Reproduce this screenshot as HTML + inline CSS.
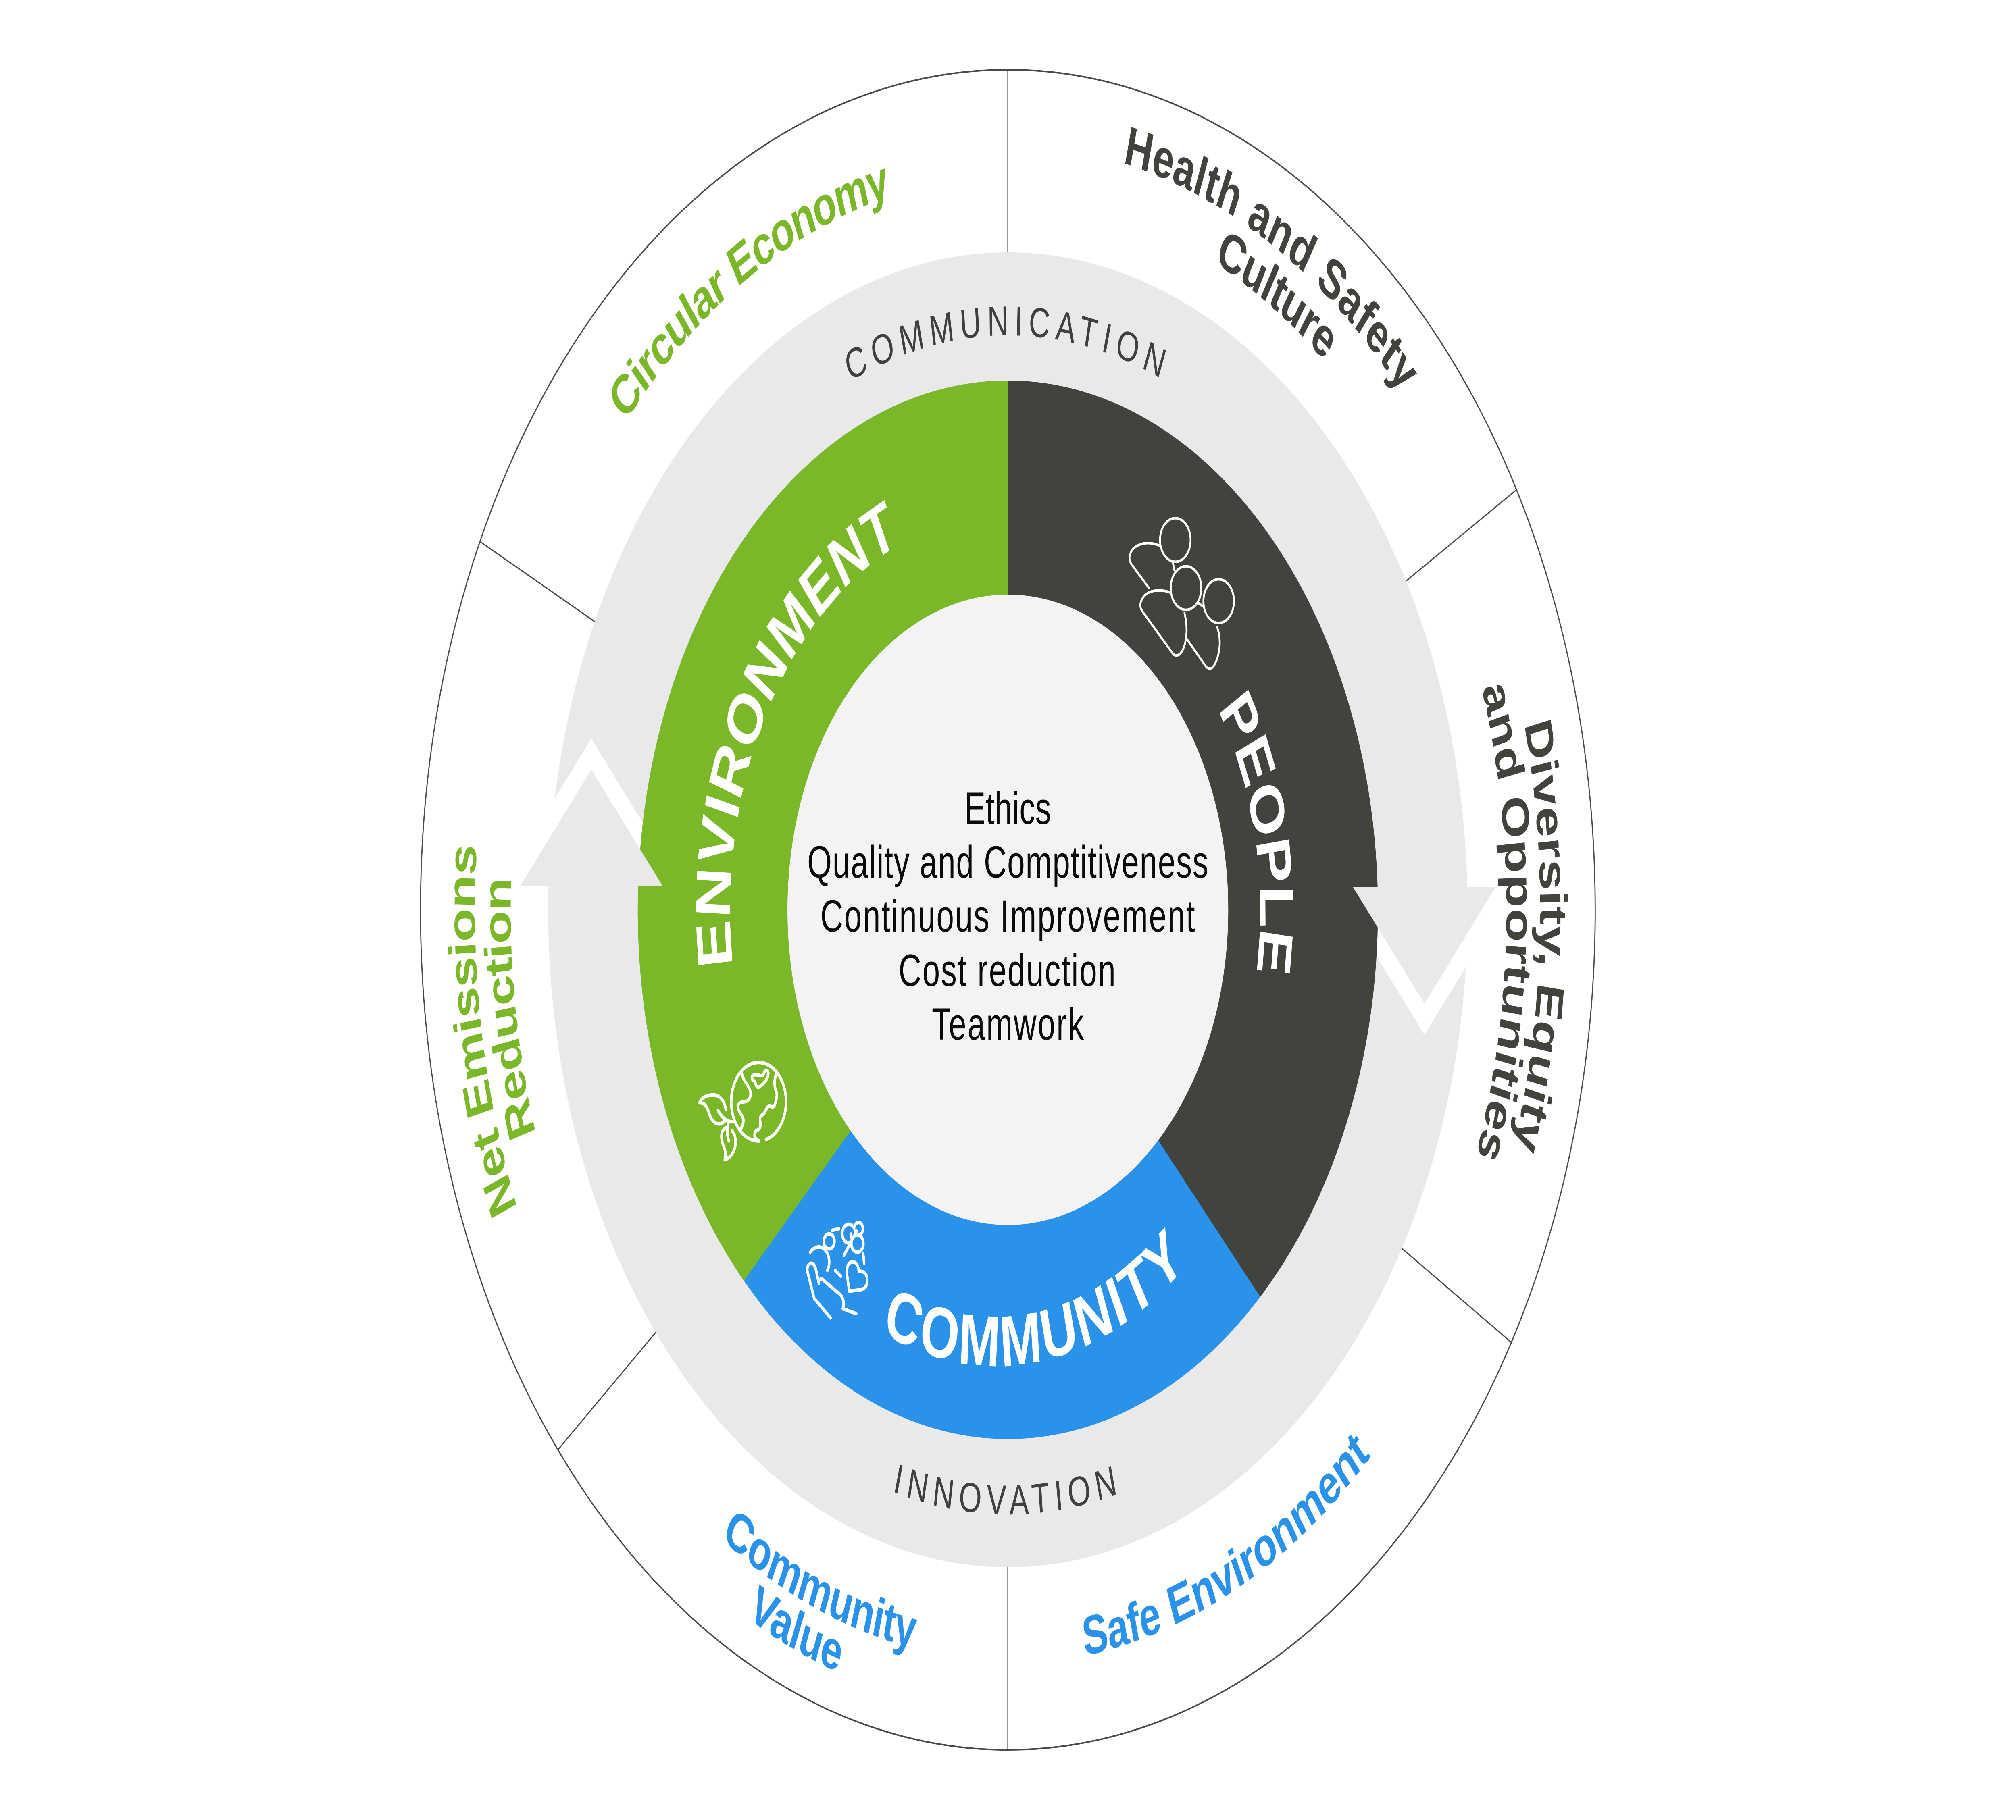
<!DOCTYPE html>
<html><head><meta charset="utf-8">
<style>
html,body{margin:0;padding:0;background:#fff;overflow:hidden;width:100%;height:100%;}
svg{display:block;position:fixed;left:0;top:0;width:100vw;height:100vh;}
text{font-family:"Liberation Sans",Arial,sans-serif;}
</style></head>
<body>
<svg viewBox="0 0 7153 4515" preserveAspectRatio="none">
<defs>
<path id="pComm" d="M2341.9,1544.5 A1425,1425 0 0 1 4810.1,1544.5"/>
<path id="pInno" d="M2277,3007 A1500,1500 0 0 0 4875,3007"/>
<path id="pEnv" d="M2727.3,2756.9 A985,985 0 0 1 3567.4,1272"/>
<path id="pPeo" d="M3854.1,1406.3 A895,895 0 0 1 4173.7,2923.1"/>
<path id="pCmty" d="M2729.3,3003.3 A1036,1036 0 0 0 4501.9,2724.1"/>
<path id="pCirc" d="M1758.2,2282.4 A1818,1818 0 0 1 4463,670.1"/>
<path id="pHealth" d="M2627.5,614.2 A1897,1897 0 0 1 5473,2257"/>
<path id="pCult" d="M2747.3,698.7 A1765,1765 0 0 1 5339.9,2318.6"/>
<path id="pDiv" d="M4577,655.1 A1889,1889 0 0 1 4462.9,3924.8"/>
<path id="pOpp" d="M4487.1,740.7 A1769,1769 0 0 1 4433.7,3804.2"/>
<path id="pNet" d="M2901.5,4023.6 A1891,1891 0 0 1 2383.4,789.6"/>
<path id="pRed" d="M2912.4,3891.3 A1764,1764 0 0 1 2492.4,865"/>
<path id="pSafe" d="M2529,3806.5 A1870,1870 0 0 0 5441.3,2389.1"/>
<path id="pCV" d="M1733.2,2524.2 A1862,1862 0 0 0 4728.8,3719.2"/>
<path id="pVal" d="M1606.9,2507.5 A1985,1985 0 0 0 4777.5,3837.1"/>
</defs>

<rect x="0" y="0" width="7153" height="4515" fill="#ffffff"/>

<!-- outer circle -->
<circle cx="3576" cy="2257" r="2084" fill="#ffffff" stroke="#4a4a48" stroke-width="4"/>

<!-- divider lines -->
<g stroke="#4a4a48" stroke-width="3.5">
<line x1="3576" y1="640" x2="3576" y2="173"/>
<line x1="3576" y1="3870" x2="3576" y2="4341"/>
<line x1="2110" y1="1542" x2="1703" y2="1343.4"/>
<line x1="2327" y1="3305" x2="1979.6" y2="3596.6"/>
<line x1="4988.5" y1="1441.5" x2="5380.8" y2="1215"/>
<line x1="4974" y1="3097" x2="5362.4" y2="3330.3"/>
</g>

<!-- gray ring -->
<circle cx="3576" cy="2257" r="1631" fill="#e9e9e9"/>

<!-- white chevrons -->
<polygon points="2098,1832 1777,2199 2419,2199" fill="#ffffff"/>
<polygon points="5054,2567 4733,2200 5375,2200" fill="#ffffff"/>

<!-- colored ring -->
<circle cx="3576" cy="2257" r="1313" fill="#2b92ea"/>
<path d="M3576,2257 L2639.4,3177.3 A1313,1313 0 0 1 3576,944 Z" fill="#7bb829"/>
<path d="M3576,2257 L3576,944 A1313,1313 0 0 1 4471.5,3217.3 Z" fill="#41433d"/>

<!-- gray arrowheads -->
<polygon points="2098,1909 1845,2199 2352,2199" fill="#e9e9e9"/>
<polygon points="5054,2490 4800,2200 5307,2200" fill="#e9e9e9"/>

<!-- inner circle -->
<circle cx="3576" cy="2257" r="782" fill="#f3f3f3"/>

<!-- globe icon -->
<g transform="translate(2450 2500) scale(0.44643)" fill="none" stroke="#ffffff" stroke-width="20" stroke-linecap="round" stroke-linejoin="round">
<path d="M600,732 A218,218 0 1 0 545,740"/>
<path d="M405,355 C415,410 480,440 478,480 C476,505 455,520 430,522 C395,524 375,530 378,555 C381,580 415,595 420,620 C423,645 410,665 395,675"/>
<path d="M690,365 C665,385 665,420 672,445 C680,470 690,470 685,495 C680,520 670,545 660,550 C645,555 635,540 615,550 C600,560 595,585 570,595 C550,605 550,615 555,640 C560,670 545,675 525,682 C505,690 508,710 512,720 C520,730 535,735 545,740"/>
<path d="M490,395 C480,375 510,368 545,375 C575,385 580,370 590,355 C600,345 620,345 618,370 C615,400 570,430 545,440 C520,448 520,420 510,410 C500,402 493,404 490,395 Z"/>
<path d="M280,565 C270,510 220,480 170,485 C120,485 85,505 72,528 C110,528 130,545 150,590 C170,635 205,648 235,645 C255,643 268,632 280,625"/>
<path d="M218,570 C250,612 300,640 345,632"/>
<path d="M300,645 C290,680 288,710 305,740"/>
<path d="M285,665 C250,675 240,705 250,740 C260,775 290,790 272,845 C330,830 360,790 358,740 C356,710 345,695 330,685"/>
</g>

<!-- community icon -->
<g transform="translate(2450 2500) scale(0.44643)">
<g fill="#2b92ea" stroke="#ffffff" stroke-width="40">
<circle cx="1258" cy="1255" r="42"/>
<circle cx="1335" cy="1228" r="25"/>
<circle cx="1326" cy="1310" r="38"/>
</g>
<g fill="#2b92ea">
<circle cx="1258" cy="1255" r="42"/>
<circle cx="1335" cy="1228" r="25"/>
<circle cx="1326" cy="1310" r="38"/>
</g>
<g fill="none" stroke="#ffffff" stroke-width="20" stroke-linecap="round" stroke-linejoin="round">
<circle cx="1102" cy="1298" r="42"/>
<line x1="1125" y1="1237" x2="1180" y2="1228"/>
<line x1="1220" y1="1375" x2="1320" y2="1242"/>
<line x1="1276" y1="1258" x2="1283" y2="1290"/>
<line x1="1372" y1="1365" x2="1380" y2="1418"/>
<line x1="1150" y1="1460" x2="1195" y2="1492"/>
<path d="M950,1360 C985,1320 1045,1322 1072,1348 C1105,1375 1112,1425 1088,1460"/>
<path d="M1113,1723 L983,1615 L930,1468 C922,1440 940,1420 960,1420 C978,1420 990,1435 995,1450 L1020,1530"/>
<path d="M1020,1530 C1015,1505 1045,1500 1062,1518 L1187,1592 C1215,1610 1225,1645 1210,1672 L1317,1700"/>
<path d="M1262,1575 L1245,1490 C1237,1440 1255,1412 1290,1412 C1322,1412 1335,1440 1338,1465 C1378,1460 1405,1482 1405,1515 C1405,1550 1380,1565 1340,1568 Z"/>
</g>
</g>

<!-- people icon -->
<g transform="translate(3576 250) scale(1.08413)" fill="none" stroke="#ffffff" stroke-width="6" stroke-linecap="round" stroke-linejoin="round">
<circle cx="548" cy="1005" r="50"/>
<path d="M496,1018 C465,1008 425,1010 405,1030 C395,1042 396,1052 406,1062 L462,1115"/>
<line x1="540" y1="1057" x2="545" y2="1074"/>
<circle cx="583" cy="1115" r="50"/>
<path d="M530,1125 C505,1118 462,1117 442,1137 C430,1150 431,1160 442,1170 L540,1265 C550,1273 562,1270 572,1257 C588,1233 588,1200 578,1172"/>
<circle cx="690" cy="1145" r="50"/>
<line x1="625" y1="1150" x2="637" y2="1156"/>
<path d="M586,1232 L648,1294 C658,1303 670,1300 678,1288 C696,1262 698,1230 685,1205"/>
</g>

<!-- ring labels -->
<text font-size="104" fill="#404040" text-anchor="middle" style="letter-spacing:20px"><textPath href="#pComm" startOffset="50%">COMMUNICATION</textPath></text>
<text font-size="104" fill="#404040" text-anchor="middle" style="letter-spacing:20px"><textPath href="#pInno" startOffset="50%">INNOVATION</textPath></text>

<text font-size="175" font-weight="bold" fill="#ffffff" text-anchor="middle"><textPath href="#pEnv" startOffset="50%">ENVIRONMENT</textPath></text>
<text font-size="170" font-weight="bold" fill="#ffffff" text-anchor="middle" style="letter-spacing:-1.5px"><textPath href="#pPeo" startOffset="50%">PEOPLE</textPath></text>
<text font-size="178" font-weight="bold" fill="#ffffff" text-anchor="middle" style="letter-spacing:7px"><textPath href="#pCmty" startOffset="50%">COMMUNITY</textPath></text>

<!-- outer labels -->
<text font-size="136" font-weight="bold" fill="#7bb829" text-anchor="middle" style="letter-spacing:-3.5px"><textPath href="#pCirc" startOffset="50%">Circular Economy</textPath></text>
<text font-size="136" font-weight="bold" fill="#41433d" text-anchor="middle" style="letter-spacing:1.4px"><textPath href="#pHealth" startOffset="50%">Health and Safety</textPath></text>
<text font-size="136" font-weight="bold" fill="#41433d" text-anchor="middle" style="letter-spacing:-2px"><textPath href="#pCult" startOffset="50%">Culture</textPath></text>
<text font-size="136" font-weight="bold" fill="#41433d" text-anchor="middle" style="letter-spacing:0.3px"><textPath href="#pDiv" startOffset="50%">Diversity, Equity</textPath></text>
<text font-size="136" font-weight="bold" fill="#41433d" text-anchor="middle" style="letter-spacing:0.5px"><textPath href="#pOpp" startOffset="50%">and Opportunities</textPath></text>
<text font-size="136" font-weight="bold" fill="#7bb829" text-anchor="middle" style="letter-spacing:-1.5px"><textPath href="#pNet" startOffset="50%">Net Emissions</textPath></text>
<text font-size="136" font-weight="bold" fill="#7bb829" text-anchor="middle" style="letter-spacing:-2.8px"><textPath href="#pRed" startOffset="50%">Reduction</textPath></text>
<text font-size="136" font-weight="bold" fill="#2b92ea" text-anchor="middle" style="letter-spacing:-0.6px"><textPath href="#pSafe" startOffset="50%">Safe Environment</textPath></text>
<text font-size="136" font-weight="bold" fill="#2b92ea" text-anchor="middle" style="letter-spacing:-1.1px"><textPath href="#pCV" startOffset="50%">Community</textPath></text>
<text font-size="136" font-weight="bold" fill="#2b92ea" text-anchor="middle" style="letter-spacing:-1.2px"><textPath href="#pVal" startOffset="50%">Value</textPath></text>

<!-- center text -->
<g font-size="112" fill="#0a0a0a" text-anchor="middle">
<text x="3576" y="2044" style="letter-spacing:0.5px">Ethics</text>
<text x="3577" y="2177" style="letter-spacing:2.4px">Quality and Comptitiveness</text>
<text x="3577" y="2311" style="letter-spacing:3.7px">Continuous Improvement</text>
<text x="3575" y="2446" style="letter-spacing:3.7px">Cost reduction</text>
<text x="3578" y="2579" style="letter-spacing:4.2px">Teamwork</text>
</g>
</svg>
</body></html>
